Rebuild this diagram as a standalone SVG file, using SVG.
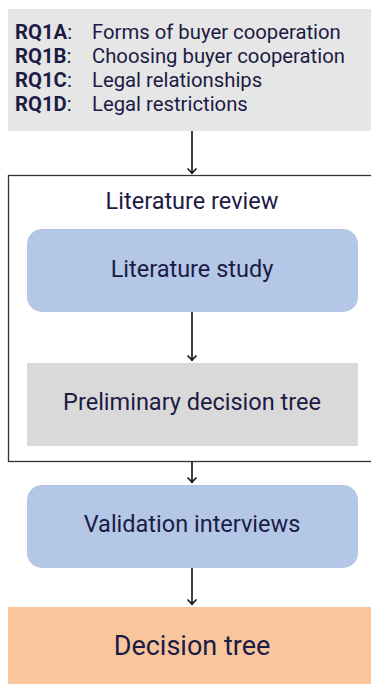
<svg xmlns="http://www.w3.org/2000/svg" width="371" height="684" viewBox="0 0 371 684">
<style>
text{font-family:Roboto,"Liberation Sans",sans-serif;fill:#1b1b45}
.c{text-anchor:middle;font-size:23.5px}
.rq{font-size:20.3px}
.b{font-weight:bold}
.conn{stroke:#111;stroke-width:1.6;fill:none}
</style>
<defs>
<marker id="ah" viewBox="0 0 10 10" refX="9" refY="5" markerWidth="10" markerHeight="10" markerUnits="userSpaceOnUse" orient="auto">
<path d="M4.5,0.5 L9,5 L4.5,9.5" fill="none" stroke="#111" stroke-width="1.6"/>
</marker>
</defs>
<rect width="371" height="684" fill="#fff"/>
<g id="rq">
<rect x="8" y="9" width="370" height="122" fill="#e7e6e6"/>
<text class="rq" x="15" y="39"><tspan class="b">RQ1A</tspan>:</text><text class="rq" x="92" y="39">Forms of buyer cooperation</text>
<text class="rq" x="15" y="63"><tspan class="b">RQ1B</tspan>:</text><text class="rq" x="92" y="63">Choosing buyer cooperation</text>
<text class="rq" x="15" y="87"><tspan class="b">RQ1C</tspan>:</text><text class="rq" x="92" y="87">Legal relationships</text>
<text class="rq" x="15" y="111"><tspan class="b">RQ1D</tspan>:</text><text class="rq" x="92" y="111">Legal restrictions</text>
</g>
<g id="literature-review">
<rect x="8.5" y="175.5" width="370" height="286" fill="none" stroke="#333" stroke-width="1.3"/>
<text class="c" x="192" y="209">Literature review</text>
</g>
<g id="literature-study">
<rect x="27" y="229" width="331" height="83" rx="15" fill="#b4c7e7"/>
<text class="c" x="192" y="277">Literature study</text>
</g>
<g id="preliminary">
<rect x="27" y="363" width="331" height="83" fill="#d9d9d9"/>
<text class="c" x="192" y="410">Preliminary decision tree</text>
</g>
<g id="validation">
<rect x="27" y="485" width="331" height="83" rx="15" fill="#b4c7e7"/>
<text class="c" x="192" y="532">Validation interviews</text>
</g>
<g id="decision-tree">
<rect x="8" y="607" width="370" height="80" fill="#f8c59d"/>
<text class="c" x="192" y="655" style="font-size:27px">Decision tree</text>
</g>
<g id="connectors">
<line class="conn" x1="192" y1="131" x2="192" y2="174"/>
<line class="conn" x1="192" y1="312" x2="192" y2="361"/>
<line class="conn" x1="192" y1="462" x2="192" y2="483"/>
<line class="conn" x1="192" y1="568" x2="192" y2="605"/>
<path class="conn" d="M187.5,168.5 L192,173 L196.5,168.5 M187.5,355.5 L192,360 L196.5,355.5 M187.5,477.5 L192,482 L196.5,477.5 M187.5,599.5 L192,604 L196.5,599.5"/>
</g>
</svg>
